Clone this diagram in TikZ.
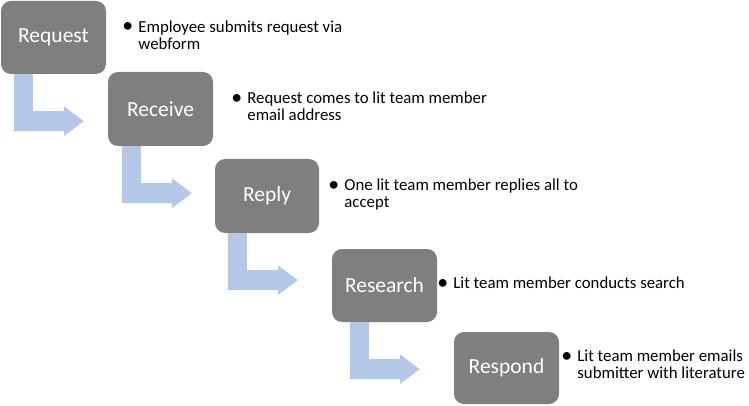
\documentclass[tikz,border=0pt]{standalone}
\usepackage{fontspec}
\setmainfont{Carlito}
\usetikzlibrary{calc}
\definecolor{boxgray}{RGB}{127,127,127}
\definecolor{arrowblue}{RGB}{180,199,231}
\newcommand{\bentarrow}[2]{%
  \fill[bent] ($(#1.south west)+(#2,0)$) -- ++(19,0) -- ++(0,37) -- ++(31,0) -- ++(0,-5)
    -- ++(20,15) -- ++(-20,15) -- ++(0,-5) -- ++(-50,0) -- cycle;}
\newcommand{\bitem}[1]{\begin{tabular}{@{}l@{}l@{}}\makebox[13pt][l]{\hspace{2.5pt}\makebox[0pt][c]{\raisebox{-0.6pt}{\scalebox{1.3}{•}}}} & #1\end{tabular}}
\begin{document}
\begin{tikzpicture}[x=1pt,y=-1pt,
  stepbox/.style={fill=boxgray, rounded corners=10pt, minimum width=105pt,
    minimum height=73pt, inner sep=0pt, text=white,
    font=\fontsize{21.5}{26}\selectfont},
  desc/.style={anchor=west, inner sep=0pt, text=black,
    font=\fontsize{16.8}{17}\selectfont},
  bent/.style={fill=arrowblue}]
\useasboundingbox (0,0) rectangle (749,406);
% boxes
\node[stepbox] (req) at (53.5,37.5) {Request};
\node[stepbox, minimum height=74pt] (rec) at (160.5,109) {Receive};
\node[stepbox, minimum height=74pt, minimum width=104pt] (rep) at (267,196) {Reply};
\node[stepbox] (res) at (384.5,285.5) {Research};
\node[stepbox, minimum height=72pt] (resp) at (506.5,368) {Respond};
% arrows
\bentarrow{req}{13}
\bentarrow{rec}{14}
\bentarrow{rep}{13}
\bentarrow{res}{18}
% descriptions
\node[desc] (t1) at ($(req.east)+(19,0)$) {\bitem{Employee submits request via\\ & webform}};
\node[desc] (t2) at ($(rec.east)+(21,0)$) {\bitem{Request comes to lit team member\\ & email address}};
\node[desc] (t3) at ($(rep.east)+(12,0)$) {\bitem{One lit team member replies all to\\ & accept}};
\node[desc] (t4) at ($(res.east)+(3,0)$) {\bitem{Lit team member conducts search}};
\node[desc] (t5) at ($(resp.east)+(5,-1)$) {\bitem{Lit team member emails\\ & submitter with literature}};
\end{tikzpicture}
\end{document}
